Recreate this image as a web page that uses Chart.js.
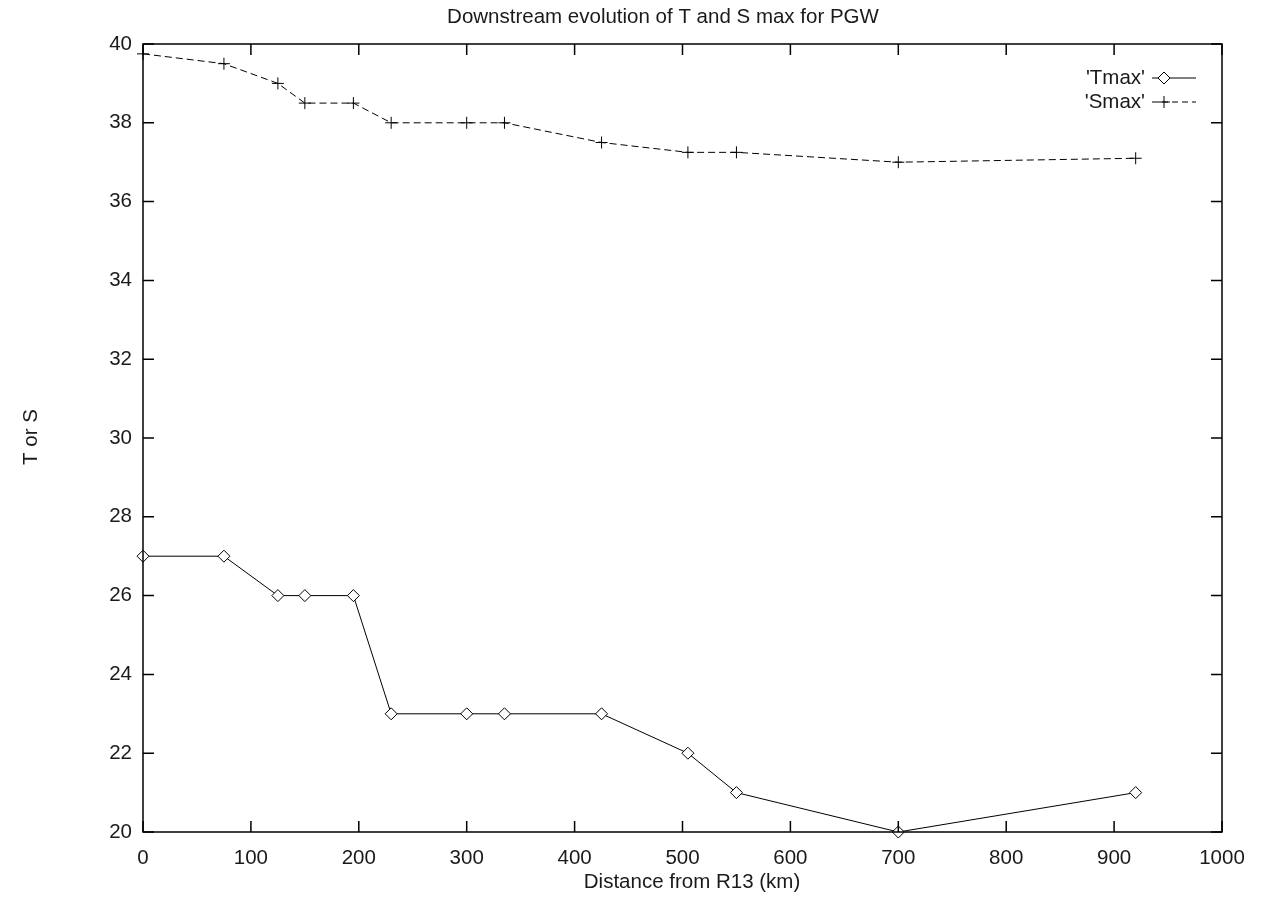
<!DOCTYPE html>
<html lang="en">
<head>
    <meta charset="UTF-8">
    <title>Downstream evolution of T and S max for PGW</title>
    <script src="https://cdn.jsdelivr.net/npm/chart.js"></script>
    <style>
        html, body { margin: 0; padding: 0; background: #fff; }
        #wrap { width: 1269px; height: 899px; }
    </style>
</head>
<body>
    <div id="wrap"><canvas id="tsChart" width="1269" height="899"></canvas></div>

    <script>
        // distance from R13 (km)
        const distance = [0, 75, 125, 150, 195, 230, 300, 335, 425, 505, 550, 700, 920];
        const tmax = [27, 27, 26, 26, 26, 23, 23, 23, 23, 22, 21, 20, 21];
        const smax = [39.75, 39.5, 39, 38.5, 38.5, 38, 38, 38, 37.5, 37.25, 37.25, 37, 37.1];
        const xTicks = [0, 100, 200, 300, 400, 500, 600, 700, 800, 900, 1000];
        const yTicks = [20, 22, 24, 26, 28, 30, 32, 34, 36, 38, 40];

        const FONT = '"Liberation Sans", Arial, sans-serif';
        const FSIZE = 20.5;

        // gnuplot style frame: box, inward ticks on all sides, titles, legend
        const framePlugin = {
            id: 'frame',
            afterDraw(chart) {
                const ctx = chart.ctx;
                const a = chart.chartArea;
                const xs = chart.scales.x, ys = chart.scales.y;
                const tl = 11;
                ctx.save();
                ctx.strokeStyle = '#000';
                ctx.lineWidth = 1.5;
                ctx.strokeRect(a.left, a.top, a.right - a.left, a.bottom - a.top);
                ctx.beginPath();
                xTicks.forEach(v => {
                    const px = xs.getPixelForValue(v);
                    ctx.moveTo(px, a.bottom); ctx.lineTo(px, a.bottom - tl);
                    ctx.moveTo(px, a.top); ctx.lineTo(px, a.top + tl);
                });
                yTicks.forEach(v => {
                    const py = ys.getPixelForValue(v);
                    ctx.moveTo(a.left, py); ctx.lineTo(a.left + tl, py);
                    ctx.moveTo(a.right, py); ctx.lineTo(a.right - tl, py);
                });
                ctx.stroke();

                ctx.fillStyle = '#1a1a1a';
                ctx.font = FSIZE + 'px ' + FONT;
                ctx.textBaseline = 'middle';
                ctx.textAlign = 'center';
                ctx.fillText('Downstream evolution of T and S max for PGW', 663, 17);
                ctx.fillText('Distance from R13 (km)', 692, 882);
                ctx.save();
                ctx.translate(31, 437);
                ctx.rotate(-Math.PI / 2);
                ctx.fillText('T or S', 0, 0);
                ctx.restore();

                // legend
                ctx.textAlign = 'right';
                const rows = [
                    { label: "'Tmax'", y: 78, dash: [], style: 'rectRot', r: 6 },
                    { label: "'Smax'", y: 102, dash: [6, 4], style: 'cross', r: 6 }
                ];
                rows.forEach(r => {
                    ctx.fillText(r.label, 1145, r.y);
                    ctx.setLineDash(r.dash);
                    ctx.lineWidth = 1;
                    ctx.beginPath();
                    ctx.moveTo(1152, r.y); ctx.lineTo(1196, r.y);
                    ctx.stroke();
                    ctx.setLineDash([]);
                    ctx.fillStyle = '#fff';
                    Chart.helpers.drawPoint(ctx, { pointStyle: r.style, radius: r.r, borderWidth: 1, rotation: 0 }, 1164, r.y);
                    ctx.fillStyle = '#1a1a1a';
                });
                ctx.restore();
            }
        };

        new Chart(document.getElementById('tsChart'), {
            type: 'line',
            data: {
                datasets: [
                    {
                        label: "'Tmax'",
                        data: distance.map((d, i) => ({ x: d, y: tmax[i] })),
                        borderColor: '#000',
                        borderWidth: 1,
                        pointStyle: 'rectRot',
                        pointRadius: 6,
                        pointBackgroundColor: '#fff',
                        pointBorderColor: '#000',
                        pointBorderWidth: 1,
                        tension: 0
                    },
                    {
                        label: "'Smax'",
                        data: distance.map((d, i) => ({ x: d, y: smax[i] })),
                        borderColor: '#000',
                        borderWidth: 1,
                        borderDash: [7, 4],
                        pointStyle: 'cross',
                        pointRadius: 6,
                        pointBorderColor: '#000',
                        pointBorderWidth: 1,
                        tension: 0
                    }
                ]
            },
            options: {
                responsive: false,
                animation: false,
                events: [],
                clip: false,
                layout: { padding: { left: 0, top: 44, right: 47, bottom: 0 } },
                plugins: {
                    legend: { display: false },
                    tooltip: { enabled: false },
                    title: { display: false }
                },
                scales: {
                    x: {
                        type: 'linear',
                        min: 0, max: 1000,
                        afterBuildTicks: s => { s.ticks = xTicks.map(v => ({ value: v })); },
                        afterFit: s => { s.height = 67; },
                        grid: { display: false },
                        border: { display: false },
                        ticks: {
                            color: '#1a1a1a', font: { family: FONT, size: FSIZE }, padding: 6, maxRotation: 0,
                            callback: v => String(v)
                        }
                    },
                    y: {
                        type: 'linear',
                        min: 20, max: 40,
                        afterBuildTicks: s => { s.ticks = yTicks.map(v => ({ value: v })); },
                        afterFit: s => { s.width = 143; },
                        grid: { display: false },
                        border: { display: false },
                        ticks: {
                            color: '#1a1a1a', font: { family: FONT, size: FSIZE }, padding: 3,
                            callback: v => String(v)
                        }
                    }
                }
            },
            plugins: [framePlugin]
        });
    </script>
</body>
</html>
